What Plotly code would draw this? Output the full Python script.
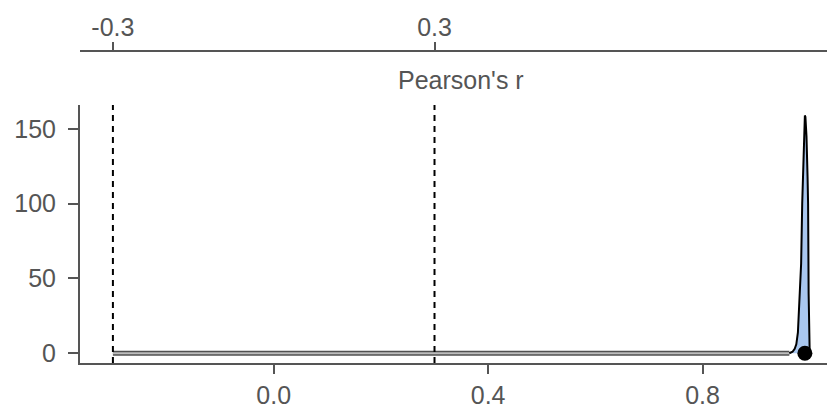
import plotly.graph_objects as go

# ---- data ----
post_x = [0.962, 0.968, 0.972, 0.975, 0.978, 0.980, 0.982, 0.984, 0.986, 0.988, 0.990, 0.991,
          0.992, 0.994, 0.996, 0.997, 0.998, 0.999, 1.000]
post_y = [0, 1, 3, 6, 14, 28, 42, 60, 100, 130, 155, 159,
          158, 145, 118, 100, 40, 10, 0]
flat_x = [-0.3, 0.962]
flat_y = [0, 0]
point_x = [0.991]
point_y = [0]
bounds = [-0.3, 0.3]
bottom_ticks = [0.0, 0.4, 0.8]
bottom_labels = ["0.0", "0.4", "0.8"]
y_ticks = [0, 50, 100, 150]
top_labels = ["-0.3", "0.3"]
title_text = "Pearson's r"

FONT = "Liberation Sans, Arial, sans-serif"
TXT = "#555555"
AX = "#555555"
FS = 25

fig = go.Figure()

# flat part of density (grey double line look)
fig.add_trace(go.Scatter(x=flat_x, y=flat_y, mode="lines",
                         line=dict(color="#505050", width=5), hoverinfo="skip", showlegend=False))
fig.add_trace(go.Scatter(x=flat_x, y=flat_y, mode="lines",
                         line=dict(color="#bdbdbd", width=2), hoverinfo="skip", showlegend=False))

# posterior peak with fill
fig.add_trace(go.Scatter(x=post_x, y=post_y, mode="lines", fill="tozeroy",
                         fillcolor="#a9c7ef", line=dict(color="black", width=2),
                         showlegend=False))

# point estimate
fig.add_trace(go.Scatter(x=point_x, y=point_y, mode="markers",
                         marker=dict(color="black", size=15), showlegend=False))

# invisible trace on top axis
fig.add_trace(go.Scatter(x=bounds, y=[0, 0], xaxis="x2", mode="markers",
                         marker=dict(opacity=0), hoverinfo="skip", showlegend=False))

xr = [-0.3614, 1.0472]
yr = [-6.5, 166]

# dashed bounds
for b in bounds:
    fig.add_shape(type="line", xref="x", yref="y", x0=b, x1=b, y0=yr[0], y1=yr[1],
                  line=dict(color="black", width=2, dash="6px,5px"))

# page has an 8px body margin, so the figure is drawn 8px smaller and offset
fig.update_layout(
    width=827, height=406,
    margin=dict(l=72, r=0, t=32, b=51),
    paper_bgcolor="white", plot_bgcolor="white",
    font=dict(family=FONT, size=FS, color=TXT),
    xaxis=dict(range=xr, tickvals=bottom_ticks, ticktext=bottom_labels,
               showgrid=False, zeroline=False, showline=True, linecolor=AX, linewidth=2,
               ticks="outside", ticklen=9, tickwidth=2, tickcolor=AX,
               ticklabelstandoff=0, tickfont=dict(size=FS, color=TXT)),
    yaxis=dict(range=yr, tickvals=y_ticks, domain=[0, 0.7988],
               showgrid=False, zeroline=False, showline=True, linecolor=AX, linewidth=2,
               ticks="outside", ticklen=10, tickwidth=2, tickcolor=AX,
               ticklabelstandoff=7, tickfont=dict(size=FS, color=TXT)),
    xaxis2=dict(range=xr, overlaying="x", side="top", anchor="free", position=0.9659,
                tickvals=bounds, ticktext=top_labels,
                showgrid=False, zeroline=False, showline=True, linecolor=AX, linewidth=2,
                ticks="outside", ticklen=8, tickwidth=2, tickcolor=AX,
                ticklabelstandoff=-4, tickfont=dict(size=FS, color=TXT)),
    annotations=[dict(text=title_text, x=0.35, xref="x", y=0.876, yref="paper",
                      xanchor="center", yanchor="middle", showarrow=False,
                      font=dict(size=FS, color=TXT, family=FONT))],
)

fig.write_html("out.html")
